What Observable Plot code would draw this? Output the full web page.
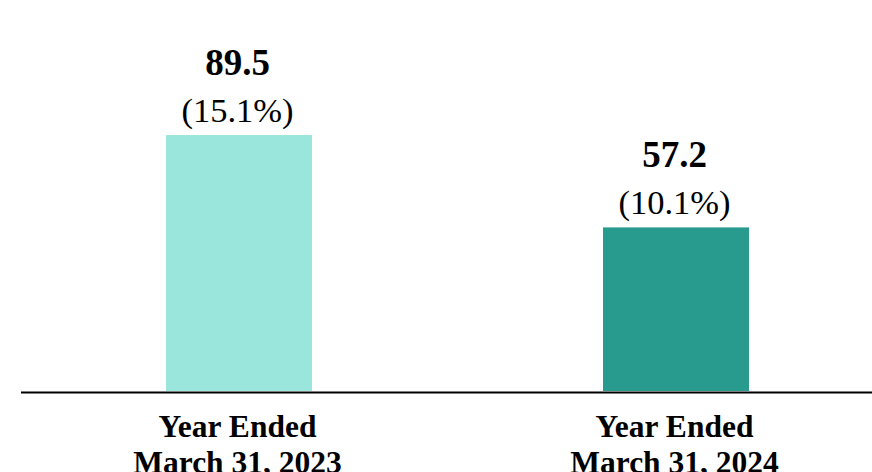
<!DOCTYPE html>
<html>
<head>
<meta charset="utf-8">
<script src="https://cdn.jsdelivr.net/npm/d3@7"></script>
<script src="https://cdn.jsdelivr.net/npm/@observablehq/plot@0.6"></script>
<style>
  html, body { margin: 0; padding: 0; background: #fff; }
  #chart svg { display: block; }
  #chart svg text { font-family: 'Liberation Serif', 'Times New Roman', Times, serif; }
</style>
</head>
<body>
<div id="chart"></div>
<script>
const categories = ["Year Ended\nMarch 31, 2023", "Year Ended\nMarch 31, 2024"];
const values = [89.5, 57.2];
const percents = ["(15.1%)", "(10.1%)"];
const colors = ["#9be6dc", "#289a8e"];

const data = categories.map((c, i) => ({cat: c, value: values[i], pct: percents[i], color: colors[i]}));
const font = "'Liberation Serif', 'Times New Roman', Times, serif";

const chart = Plot.plot({
  width: 872,
  height: 472,
  marginLeft: 21,
  marginRight: 0,
  marginTop: 105,
  marginBottom: 81,
  style: {fontFamily: font, background: "#fff"},
  x: {domain: categories, paddingInner: 0.666, paddingOuter: 0.3066, align: 0.541, axis: null},
  y: {domain: [0, 100], axis: null},
  marks: [
    Plot.barY(data, {x: "cat", y: "value", fill: "color"}),
    Plot.ruleY([0], {stroke: "#000", strokeWidth: 2, dy: 1}),
    Plot.text(data, {x: "cat", y: "value", text: d => d.value.toFixed(1), fontFamily: font, fontWeight: "bold", fontSize: 37, lineAnchor: "bottom", dy: -61, dx: -2, fill: "#000"}),
    Plot.text(data, {x: "cat", y: "value", text: "pct", fontFamily: font, fontSize: 34.5, lineAnchor: "bottom", dy: -14, dx: -2, fill: "#000"}),
    Plot.text(data, {x: "cat", y: 0, text: "cat", fontFamily: font, fontWeight: "bold", fontSize: 31.5, lineAnchor: "top", lineHeight: 1.16, dy: 19.5, dx: -2, fill: "#000"})
  ]
});
document.getElementById("chart").append(chart);
</script>
</body>
</html>
